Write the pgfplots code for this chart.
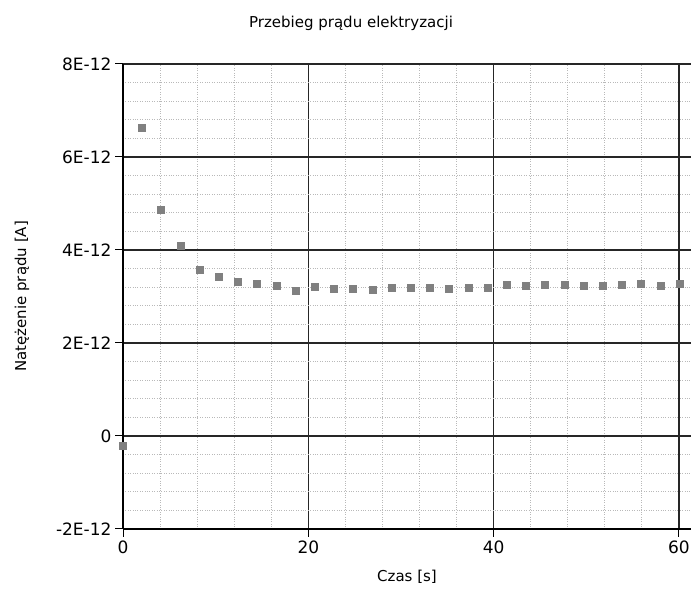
\documentclass[border=0pt]{standalone}
\usepackage{pgfplots}
\pgfplotsset{compat=1.18}
\usepackage{fontspec}
\setmainfont{DejaVu Sans}
\definecolor{markgray}{HTML}{808080}
\begin{document}
\begin{tikzpicture}[x=1pt,y=1pt]
\path[use as bounding box] (0,0) rectangle (691,589);
\node at (351,566) {\fontsize{15}{18}\selectfont Przebieg prądu elektryzacji};
\begin{axis}[
 at={(123pt,60pt)}, anchor=south west, scale only axis,
 width=568pt, height=465pt,
 xmin=0, xmax=61.3, ymin=-2e-12, ymax=8e-12,
 axis lines=left, axis line style={-, black, line width=1.3pt},
 xtick={0,20,40,60}, xticklabels={0,20,40,60},
 ytick={-2e-12,0,2e-12,4e-12,6e-12,8e-12},
 yticklabels={-2E-12,0,2E-12,4E-12,6E-12,8E-12},
 scaled y ticks=false, scaled x ticks=false,
 minor x tick num=4, minor y tick num=4,
 grid=both,
 major grid style={black!85, line width=1.4pt},
 minor grid style={gray!55, dotted, line width=0.9pt},
 tick align=outside, major tick length=8pt, minor tick length=0pt,
 tick style={black, line width=1pt},
 ticklabel style={font=\fontsize{17}{20}\selectfont},
 /pgf/number format/assume math mode=true,
 xlabel={Czas [s]}, ylabel={Natężenie prądu [A]},
 label style={font=\fontsize{15}{18}\selectfont},
 xlabel style={at={(axis description cs:0.5,-0.1032)}, anchor=center},
 ylabel style={at={(axis description cs:-0.1778,0.5)}, anchor=center},
 clip=false,
]
\addplot[markgray, only marks, mark=square*, mark size=3.5pt, mark options={fill=markgray, draw=markgray, line width=0pt}] coordinates {
(0,-0.215e-12) (2.07,6.617e-12) (4.14,4.86e-12) (6.22,4.09e-12) (8.29,3.57e-12)
(10.36,3.42e-12) (12.43,3.32e-12) (14.50,3.26e-12) (16.58,3.22e-12) (18.65,3.12e-12)
(20.72,3.21e-12) (22.79,3.17e-12) (24.86,3.16e-12) (26.94,3.14e-12) (29.01,3.18e-12)
(31.08,3.18e-12) (33.15,3.19e-12) (35.22,3.16e-12) (37.30,3.18e-12) (39.37,3.19e-12)
(41.44,3.25e-12) (43.51,3.22e-12) (45.58,3.24e-12) (47.66,3.24e-12) (49.73,3.23e-12)
(51.80,3.23e-12) (53.87,3.25e-12) (55.94,3.26e-12) (58.02,3.23e-12) (60.09,3.26e-12)
};
\end{axis}
\end{tikzpicture}
\end{document}
